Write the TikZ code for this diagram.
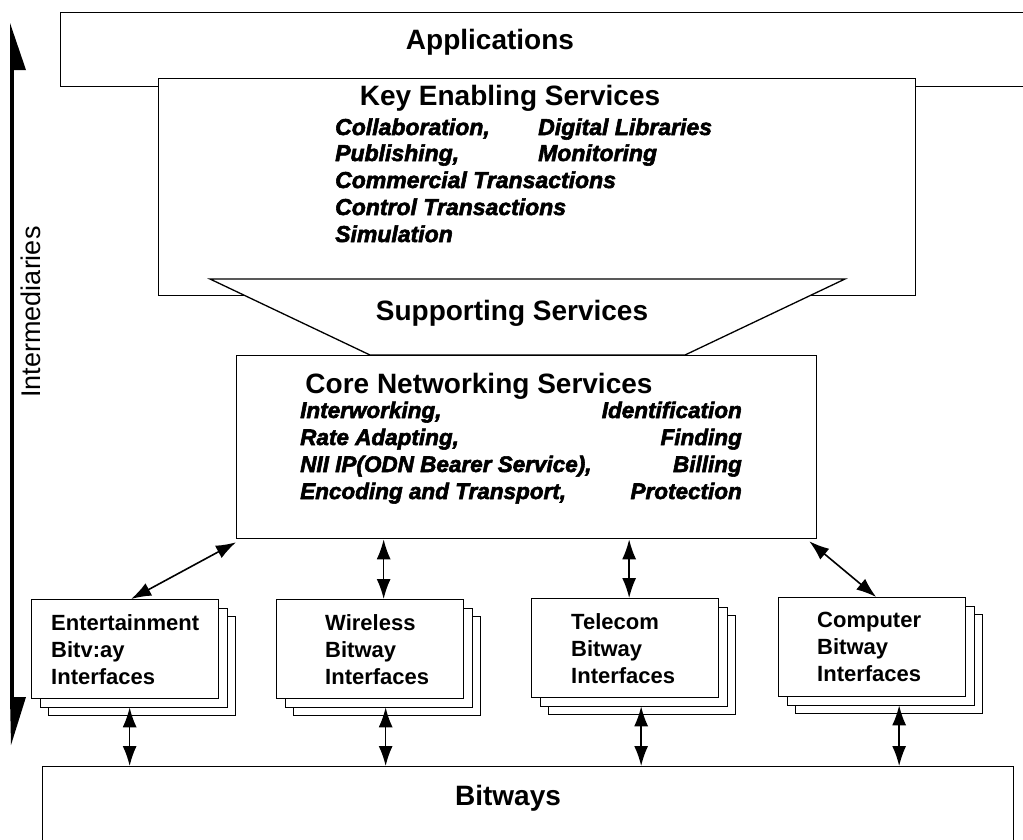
\documentclass[tikz,border=0pt]{standalone}
\usepackage{fontspec}
\setmainfont{Liberation Sans}
\newfontfamily\heavy[FakeBold=2.5]{Liberation Sans}
\usetikzlibrary{arrows.meta,calc}
\begin{document}
\begin{tikzpicture}[x=1pt,y=-1pt,
  box/.style={draw,line width=1.3pt,fill=white,inner sep=0,anchor=north west},
  ibox/.style={box,minimum width=187pt,minimum height=99pt},
  title/.style={font=\fontsize{28}{30}\selectfont\bfseries,inner sep=0,anchor=base},
  kes/.style={font=\fontsize{23}{25}\selectfont\heavy\bfseries\itshape,inner sep=0,anchor=base west},
  cns/.style={font=\fontsize{22.5}{24}\selectfont\heavy\bfseries\itshape,inner sep=0},
  itxt/.style={font=\fontsize{22}{27}\selectfont\bfseries,align=left,inner sep=0,anchor=west},
  conn/.style={{Latex[length=20pt,width=14pt]}-{Latex[length=20pt,width=14pt]},line width=1.6pt}
]
\useasboundingbox (0,0) rectangle (1023,839);
\clip (0,0) rectangle (1023,839);
\fill[white] (0,0) rectangle (1023,839);

% Applications
\node[box,minimum width=990pt,minimum height=74pt] (app) at (60,12) {};
\node[title] (apptxt) at (490,49) {Applications};

% Key enabling services
\node[box,minimum width=757pt,minimum height=217pt] (kesbox) at (158,78) {};
\node[title] (kestitle) at (510,105) {Key Enabling Services};
\node[kes] (k1) at (335,135) {Collaboration,};
\node[kes] (k2) at (538,135) {Digital Libraries};
\node[kes] (k3) at (335,161) {Publishing,};
\node[kes] (k4) at (538,161) {Monitoring};
\node[kes] (k5) at (335,188) {Commercial Transactions};
\node[kes] (k6) at (335,215) {Control Transactions};
\node[kes] (k7) at (335,242) {Simulation};

% Supporting services funnel
\draw[line width=1.3pt,fill=white] (210,279) -- (845,279) -- (685,355) -- (370,355) -- cycle;
\node[title] (support) at (512,320) {Supporting Services};

% Core networking services
\node[box,minimum width=580pt,minimum height=183pt] (core) at (236,355) {};
\node[title] (coretitle) at (479,393) {Core Networking Services};
\node[cns,anchor=base west] (c1) at (300,418) {Interworking,};
\node[cns,anchor=base east] (c2) at (742,418) {Identification};
\node[cns,anchor=base west] (c3) at (300,445) {Rate Adapting,};
\node[cns,anchor=base east] (c4) at (742,445) {Finding};
\node[cns,anchor=base west] (c5) at (300,472) {NII IP(ODN Bearer Service),};
\node[cns,anchor=base east] (c6) at (742,472) {Billing};
\node[cns,anchor=base west] (c7) at (300,499) {Encoding and Transport,};
\node[cns,anchor=base east] (c8) at (742,499) {Protection};

% Bitway interface stacks
\foreach \nm/\x/\y in {ent/31/599,wir/276/599,tel/531/598,com/778/597}{
  \node[ibox] (\nm3) at (\x+17,\y+17) {};
  \node[ibox] (\nm2) at (\x+8.5,\y+8.5) {};
  \node[ibox] (\nm) at (\x,\y) {};
}
\node[itxt] (enttxt) at ([xshift=20pt]ent.west) {Entertainment\\Bitv:ay\\Interfaces};
\node[itxt] (wirtxt) at ([xshift=49pt]wir.west) {Wireless\\Bitway\\Interfaces};
\node[itxt] (teltxt) at ([xshift=40pt]tel.west) {Telecom\\Bitway\\Interfaces};
\node[itxt] (comtxt) at ([xshift=39pt]com.west) {Computer\\Bitway\\Interfaces};

% Bitways
\node[box,minimum width=971pt,minimum height=120pt] (bit) at (42,766) {};
\node[title] (bittxt) at (508,805) {Bitways};

% connectors core <-> interfaces
\draw[conn] ([yshift=-3pt]core.south west) -- ([xshift=6pt]ent.north);
\draw[conn] ([xshift=13.5pt]wir.north) -- ([xshift=13.5pt]wir.north |- core.south);
\draw[conn] ([xshift=4pt]tel.north) -- ([xshift=4pt]tel.north |- core.south);
\draw[conn] ([xshift=-8pt,yshift=-2pt]core.south east) -- ([xshift=4pt]com.north);

% connectors interfaces <-> bitways
\draw[conn] ([xshift=4.5pt,yshift=-8pt]ent.south) -- ([xshift=4.5pt]ent.south |- bit.north);
\draw[conn] ([xshift=15.5pt,yshift=-8pt]wir.south) -- ([xshift=15.5pt]wir.south |- bit.north);
\draw[conn] ([xshift=16pt,yshift=-8pt]tel.south) -- ([xshift=16pt]tel.south |- bit.north);
\draw[conn] ([xshift=27pt,yshift=-8pt]com.south) -- ([xshift=27pt]com.south |- bit.north);

% Intermediaries axis
\coordinate (itop) at (12,70);
\coordinate (ibot) at (12,697);
\draw[line width=3.5pt] (itop) -- (ibot);
\fill (10,23) -- (26,70) -- (10,70) -- cycle;
\fill (10,697) -- (26,697) -- (11,745) -- cycle;
\node[rotate=90,font=\fontsize{27}{29}\selectfont,inner sep=0] (inter) at (31,312) {Intermediaries};
\end{tikzpicture}
\end{document}
